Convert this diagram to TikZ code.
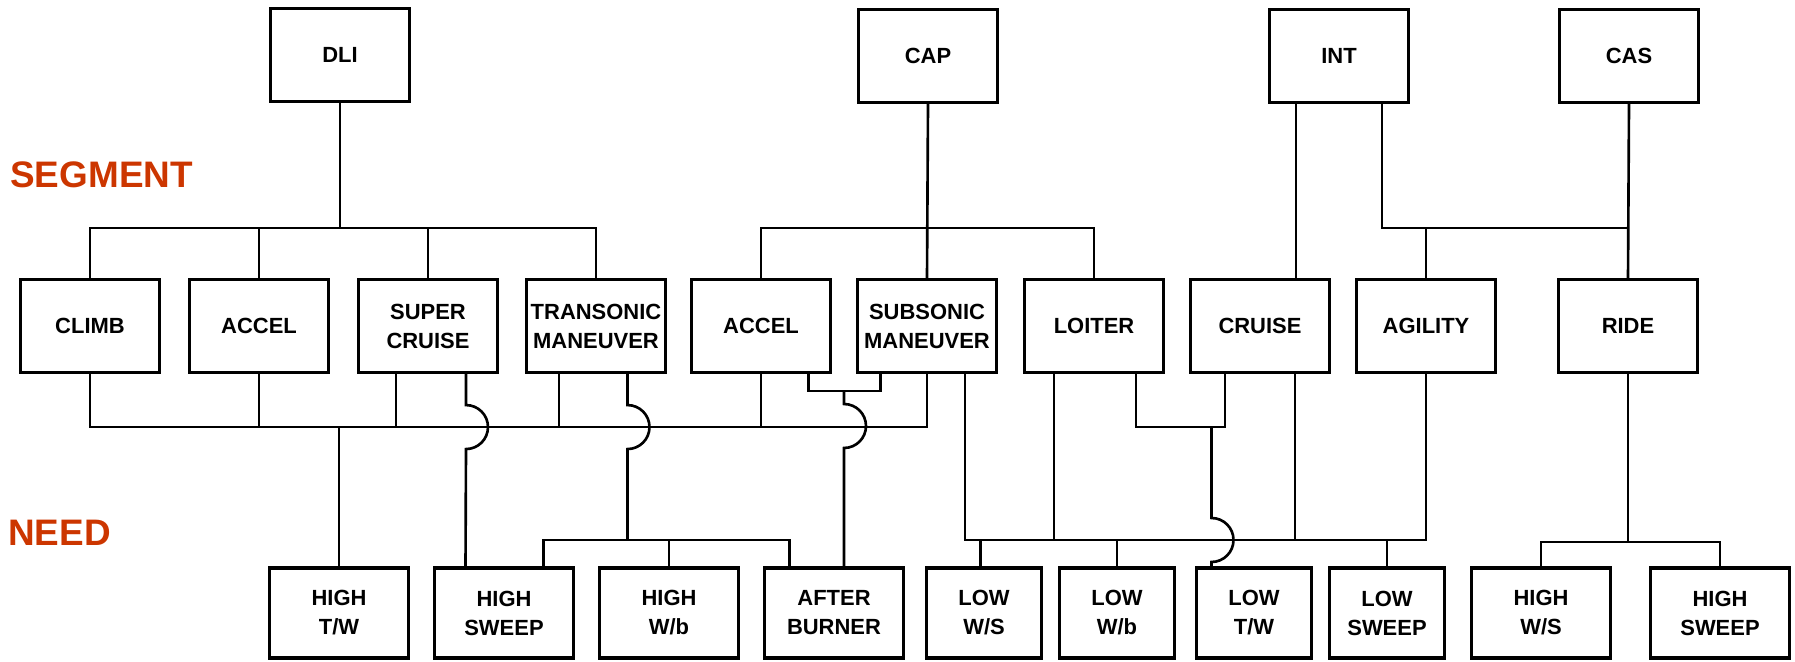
\documentclass[tikz,border=0pt]{standalone}
\usepackage{fontspec}
\setmainfont{Liberation Sans}
\usepackage{tikz}
\definecolor{segred}{RGB}{204,54,0}
\tikzset{
  box/.style={draw,line width=1.8pt,minimum width=2.78cm,minimum height=1.86cm,inner sep=0pt,
    align=center,font=\bfseries\fontsize{12.5}{16.5}\selectfont},
  needbox/.style={box,minimum height=1.8cm},
  lowbox/.style={needbox,minimum width=2.3cm},
  wire/.style={line width=1.5pt},
  hop/.style={line width=1.5pt},
  tag/.style={text=segred,font=\bfseries\fontsize{21}{24}\selectfont,anchor=west,inner sep=0pt}
}
\begin{document}
\begin{tikzpicture}[x=0.02cm,y=-0.02cm]
\useasboundingbox (0,0) rectangle (1795,662);
%% labels
\node[tag] (seg) at (10,175) {SEGMENT};
\node[tag] (need) at (8,533) {NEED};
%% missions
\node[box] (dli) at (340,55) {DLI};
\node[box] (cap) at (928,56) {CAP};
\node[box] (int) at (1339,56) {INT};
\node[box] (cas) at (1629,56) {CAS};
%% segments
\node[box] (climb) at (90,326) {CLIMB};
\node[box] (acc) at (259,326) {ACCEL};
\node[box] (supc) at (428,326) {SUPER\\CRUISE};
\node[box] (tman) at (596,326) {TRANSONIC\\MANEUVER};
\node[box] (accb) at (761,326) {ACCEL};
\node[box] (sman) at (927,326) {SUBSONIC\\MANEUVER};
\node[box] (loit) at (1094,326) {LOITER};
\node[box] (cru) at (1260,326) {CRUISE};
\node[box] (agil) at (1426,326) {AGILITY};
\node[box] (ride) at (1628,326) {RIDE};
%% needs
\node[needbox] (hitw) at (339,613) {HIGH\\T/W};
\node[needbox] (hisw) at (504,613) {HIGH\\SWEEP};
\node[needbox] (hiwb) at (669,613) {HIGH\\W/b};
\node[needbox] (ab) at (834,613) {AFTER\\BURNER};
\node[lowbox] (lows) at (984,613) {LOW\\W/S};
\node[lowbox] (lowb) at (1117,613) {LOW\\W/b};
\node[lowbox] (lotw) at (1254,613) {LOW\\T/W};
\node[lowbox] (losw) at (1387,613) {LOW\\SWEEP};
\node[needbox] (hiws) at (1541,613) {HIGH\\W/S};
\node[needbox] (hisb) at (1720,613) {HIGH\\SWEEP};
%% mission to segment
\coordinate (sbus) at (0,228);
\draw[wire] (dli.south) -- (dli.south |- sbus);
\draw[wire] (climb.north) -- (climb.north |- sbus) -- (tman.north |- sbus) -- (tman.north);
\foreach \n in {acc,supc} \draw[wire] (\n.north) -- (\n.north |- sbus);
\draw[wire] (cap.south) -- (sman.north);
\draw[wire] (accb.north) -- (accb.north |- sbus) -- (loit.north |- sbus) -- (loit.north);
\draw[wire] ([xshift=-0.86cm]int.south) -- ([xshift=-0.86cm]int.south |- cru.north);
\draw[wire] ([xshift=0.86cm]int.south) -- ([xshift=0.86cm]int.south |- sbus) -- (cas.south |- sbus);
\draw[wire] (cas.south) -- (ride.north);
\draw[wire] (agil.north) -- (agil.north |- sbus);
%% segment to need
\coordinate (lbus) at (0,427);
\coordinate (hbus) at (0,540);
\coordinate (cbus) at (0,391);
\coordinate (rbus) at (0,542);
\draw[wire] (climb.south) -- (climb.south |- lbus) -- (sman.south |- lbus) -- (sman.south);
\foreach \n/\s in {acc/0,supc/-0.64cm,tman/-0.74cm,accb/0}
  \draw[wire] ([xshift=\s]\n.south) -- ([xshift=\s]\n.south |- lbus);
\draw[wire] (hitw.north) -- (hitw.north |- lbus);
%% hops over the lower bus
\draw[hop] ([xshift=0.76cm]supc.south) -- ++(0,31) arc[start angle=90,end angle=-90,radius=0.44cm]
  -- ([xshift=-0.77cm]hisw.north);
\draw[hop] ([xshift=0.63cm]tman.south) -- ++(0,31) arc[start angle=90,end angle=-90,radius=0.44cm]
  -- ([xshift=0.63cm]tman.south |- hbus);
\draw[wire] ([xshift=0.79cm]hisw.north) -- ([xshift=0.79cm]hisw.north |- hbus)
  -- ([xshift=-0.89cm]ab.north |- hbus) -- ([xshift=-0.89cm]ab.north);
\draw[wire] (hiwb.north) -- (hiwb.north |- hbus);
\draw[wire] ([xshift=0.95cm]accb.south) -- ([xshift=0.95cm]accb.south |- cbus)
  -- ([xshift=-0.93cm]sman.south |- cbus) -- ([xshift=-0.93cm]sman.south);
\draw[hop] ([xshift=0.2cm]ab.north |- cbus) -- ++(0,13) arc[start angle=90,end angle=-90,radius=0.44cm]
  -- ([xshift=0.2cm]ab.north);
%% low needs
\draw[wire] ([xshift=0.76cm]sman.south) -- ([xshift=0.76cm]sman.south |- hbus) -- (agil.south |- hbus) -- (agil.south);
\draw[wire] ([xshift=-0.8cm]loit.south) -- ([xshift=-0.8cm]loit.south |- hbus);
\draw[wire] ([xshift=0.7cm]cru.south) -- ([xshift=0.7cm]cru.south |- hbus);
\foreach \n/\s in {lows/-0.07cm,lowb/0,losw/0}
  \draw[wire] ([xshift=\s]\n.north) -- ([xshift=\s]\n.north |- hbus);
\draw[wire] ([xshift=0.84cm]loit.south) -- ([xshift=0.84cm]loit.south |- lbus)
  -- ([xshift=-0.7cm]cru.south |- lbus) -- ([xshift=-0.7cm]cru.south);
\draw[hop] ([xshift=-0.85cm]lotw.north |- lbus) -- ++(0,91) arc[start angle=90,end angle=-90,radius=0.44cm]
  -- ([xshift=-0.85cm]lotw.north);
%% ride
\draw[wire] (ride.south) -- (ride.south |- rbus);
\draw[wire] (hiws.north) -- (hiws.north |- rbus) -- (hisb.north |- rbus) -- (hisb.north);
\end{tikzpicture}
\end{document}
